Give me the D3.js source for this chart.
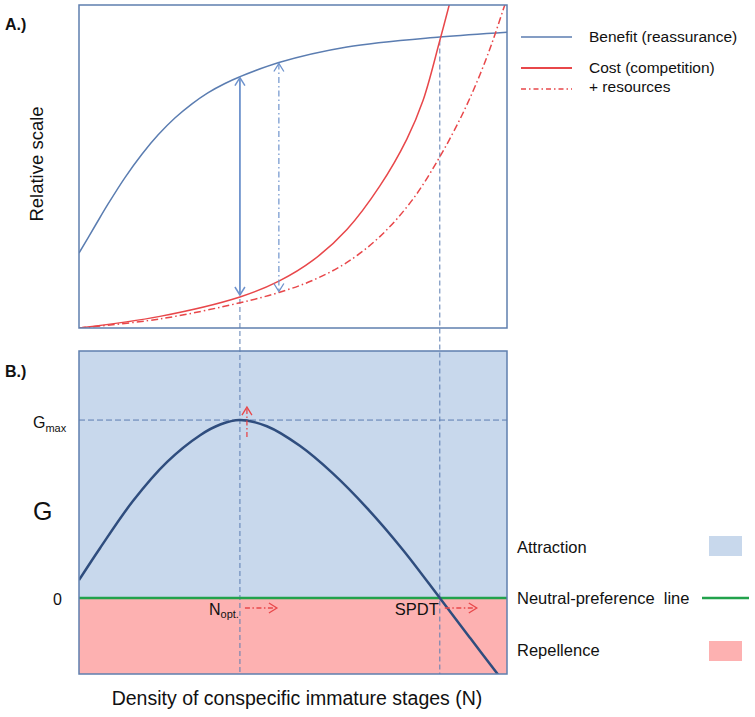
<!DOCTYPE html>
<html><head><meta charset="utf-8">
<script src="https://cdn.jsdelivr.net/npm/d3@7/dist/d3.min.js"></script>
<style>
body{margin:0;background:#fff;}
text{font-family:Arial,"Liberation Sans",sans-serif;fill:#111;}
</style></head>
<body><svg id="c" width="755" height="717"></svg>
<script>
// ---- data ----
const benefitN   = [0,3.7,6.8,10.7,14.7,18.5,22.4,26.4,30.1,34.1,37.6,46.7,62.6,84.3,100];
const benefitV   = [23.2,31.5,38.4,46.5,53.8,59.8,65.0,69.4,72.8,75.7,77.8,82.2,87.0,90.1,91.6];
const costN      = [0,18.9,37.6,46.7,54.7,62.6,70.3,76.6,80.4,84.3,86.7];
const costV      = [0,3.6,9.6,14.5,21.0,30.5,44.0,58.5,70.5,89.0,101];
const resN       = [0,18.9,37.6,46.7,54.7,62.6,70.3,77.8,84.3,89.7,93.7,96.7,99.1,100];
const resV       = [0,2.8,7.8,11.0,14.8,20.3,28.3,39.5,53.0,66.5,78.5,89.0,98.5,102];
const gN         = [0,4.9,12.6,20.6,28.3,33,37.6,43.9,51.6,59.3,67.3,75.7,84.3,91.4,97.9];
const gV         = [10.1,28.0,54.5,76.5,91.5,97.5,100,96.5,85.5,70.0,50.5,27.0,0,-22.5,-43];
const nOpt = 37.6, spdt = 84.3, gMax = 100;
const legendA = ["Benefit (reassurance)", "Cost (competition)", "+ resources"];
const legendB = ["Attraction", "Neutral-preference  line", "Repellence"];

// ---- setup ----
const svg = d3.select("#c");
const x  = d3.scaleLinear().domain([0,100]).range([79,507]);
const yA = d3.scaleLinear().domain([0,100]).range([328,5]);
const yB = d3.scaleLinear().domain([-42.7,138.8]).range([674,351]);
const boxC = "#5f7fae", benC="#5b7db1", arrC="#6e93cd", red="#e8474a", gC="#2f4d7e";
const blueFill="#c8d8ec", pinkFill="#fdb1b1", green="#22a24c";

function zip(a,b){return a.map((v,i)=>[v,b[i]]);}
const crv = d3.curveCatmullRom.alpha(0.5);
const lineA = d3.line().x(d=>x(d[0])).y(d=>yA(d[1])).curve(crv);
const lineB = d3.line().x(d=>x(d[0])).y(d=>yB(d[1])).curve(crv);

svg.append("clipPath").attr("id","clipA").append("rect")
  .attr("x",x(0)).attr("y",yA(100)).attr("width",x(100)-x(0)).attr("height",yA(0)-yA(100));
svg.append("clipPath").attr("id","clipB").append("rect")
  .attr("x",x(0)).attr("y",yB(138.8)).attr("width",x(100)-x(0)).attr("height",yB(-42.7)-yB(138.8));

// ---- Panel B background ----
svg.append("rect").attr("x",x(0)).attr("y",yB(138.8)).attr("width",x(100)-x(0))
  .attr("height",yB(0)-yB(138.8)).attr("fill",blueFill);
svg.append("rect").attr("x",x(0)).attr("y",yB(0)).attr("width",x(100)-x(0))
  .attr("height",yB(-42.7)-yB(0)).attr("fill",pinkFill);

// ---- reference lines ----
const dash = "5,3";
svg.append("line").attr("x1",x(nOpt)).attr("x2",x(nOpt))
  .attr("y1",yA(costV[2])+2).attr("y2",yB(-42.7))
  .attr("stroke",benC).attr("stroke-width",1).attr("stroke-dasharray",dash);
svg.append("line").attr("x1",x(spdt)).attr("x2",x(spdt))
  .attr("y1",yA(89)).attr("y2",yB(-42.7))
  .attr("stroke",benC).attr("stroke-width",1).attr("stroke-dasharray",dash);
svg.append("line").attr("x1",x(0)).attr("x2",x(100))
  .attr("y1",yB(gMax)).attr("y2",yB(gMax))
  .attr("stroke",benC).attr("stroke-width",1).attr("stroke-dasharray","6,3");

// zero line
svg.append("line").attr("x1",x(0)).attr("x2",x(100)).attr("y1",yB(0)).attr("y2",yB(0))
  .attr("stroke",green).attr("stroke-width",2.5);

// G curve
svg.append("path").attr("d",lineB(zip(gN,gV))).attr("fill","none")
  .attr("stroke",gC).attr("stroke-width",2.5).attr("clip-path","url(#clipB)");

// panel B box
svg.append("rect").attr("x",x(0)).attr("y",yB(138.8)).attr("width",x(100)-x(0))
  .attr("height",yB(-42.7)-yB(138.8)).attr("fill","none").attr("stroke",boxC).attr("stroke-width",1.5);

// ---- Panel A ----
const gA = svg.append("g").attr("clip-path","url(#clipA)");
gA.append("path").attr("d",lineA(zip(benefitN,benefitV))).attr("fill","none")
  .attr("stroke",benC).attr("stroke-width",1.5);
gA.append("path").attr("d",lineA(zip(costN,costV))).attr("fill","none")
  .attr("stroke",red).attr("stroke-width",1.5);
gA.append("path").attr("d",lineA(zip(resN,resV))).attr("fill","none")
  .attr("stroke",red).attr("stroke-width",1.5).attr("stroke-dasharray","7,3,1.5,3");
svg.append("rect").attr("x",x(0)).attr("y",yA(100)).attr("width",x(100)-x(0))
  .attr("height",yA(0)-yA(100)).attr("fill","none").attr("stroke",boxC).attr("stroke-width",1.5);

// arrows helper
function chevron(px,py,dir,color,w){ // dir: 'up','down','right'
  let d;
  if(dir==="up") d=`M${px-5},${py+8}L${px},${py}L${px+5},${py+8}`;
  else if(dir==="down") d=`M${px-5},${py-8}L${px},${py}L${px+5},${py-8}`;
  else d=`M${px-8},${py-5}L${px},${py}L${px-8},${py+5}`;
  svg.append("path").attr("d",d).attr("fill","none").attr("stroke",color).attr("stroke-width",w||1.5);
}
// solid double arrow at Nopt
{
  const px=x(nOpt), y1=yA(benefitV[10])+1, y2=yA(costV[2])-2;
  svg.append("line").attr("x1",px).attr("x2",px).attr("y1",y1).attr("y2",y2)
    .attr("stroke",arrC).attr("stroke-width",1.8);
  chevron(px,y1,"up",arrC,1.5); chevron(px,y2,"down",arrC,1.5);
}
// dash-dot double arrow
{
  const px=x(46.7), y1=yA(benefitV[11])+1, y2=yA(resV[3])-1;
  svg.append("line").attr("x1",px).attr("x2",px).attr("y1",y1).attr("y2",y2)
    .attr("stroke",arrC).attr("stroke-width",1.2).attr("stroke-dasharray","6,3,1.5,3");
  chevron(px,y1,"up",arrC,1.3); chevron(px,y2,"down",arrC,1.3);
}

// red arrows in panel B
{
  const px=x(nOpt)+7;
  svg.append("line").attr("x1",px).attr("x2",px).attr("y1",yB(gMax)+17).attr("y2",yB(gMax)-12)
    .attr("stroke",red).attr("stroke-width",1.3).attr("stroke-dasharray","5,2.5,1.5,2.5");
  chevron(px,yB(gMax)-13,"up",red,1.3);
  [nOpt,spdt].forEach(n=>{
    const x0=x(n)+5, yy=yB(0)+10;
    svg.append("line").attr("x1",x0).attr("x2",x0+31).attr("y1",yy).attr("y2",yy)
      .attr("stroke",red).attr("stroke-width",1.3).attr("stroke-dasharray","5,2.5,1.5,2.5");
    chevron(x0+32,yy,"right",red,1.3);
  });
}

// ---- texts ----
svg.append("text").attr("x",5).attr("y",30).attr("font-size",16).attr("font-weight","bold").text("A.)");
svg.append("text").attr("x",5).attr("y",377).attr("font-size",16).attr("font-weight","bold").text("B.)");
svg.append("text").attr("transform","translate(43,164) rotate(-90)").attr("text-anchor","middle")
  .attr("font-size",18.5).text("Relative scale");
svg.append("text").attr("x",297).attr("y",705).attr("text-anchor","middle").attr("font-size",19.5)
  .text("Density of conspecific immature stages (N)");

// axis labels in B
const gm = svg.append("text").attr("x",33).attr("y",yB(gMax)+8).attr("font-size",16);
gm.append("tspan").text("G");
gm.append("tspan").attr("font-size",11).attr("dy",4).text("max");
svg.append("text").attr("x",33).attr("y",520).attr("font-size",25).text("G");
svg.append("text").attr("x",53).attr("y",yB(0)+7).attr("font-size",16).text("0");

const no = svg.append("text").attr("x",x(nOpt)-1).attr("y",yB(0)+17).attr("text-anchor","end").attr("font-size",16);
no.append("tspan").text("N");
no.append("tspan").attr("font-size",11).attr("dy",3).text("opt.");
svg.append("text").attr("x",x(spdt)-1).attr("y",yB(0)+17).attr("text-anchor","end").attr("font-size",16.5).text("SPDT");

// legend A
const lgA=[{y:37,c:benC,d:null},{y:68,c:red,d:null},{y:89,c:red,d:"5,3,1.5,3"}];
lgA.forEach(l=>{
  svg.append("line").attr("x1",521).attr("x2",572).attr("y1",l.y).attr("y2",l.y)
    .attr("stroke",l.c).attr("stroke-width",l.c===red&&!l.d?2:1.3).attr("stroke-dasharray",l.d);
});
svg.append("text").attr("x",589).attr("y",42).attr("font-size",15.5).text(legendA[0]);
svg.append("text").attr("x",589).attr("y",73).attr("font-size",15.5).text(legendA[1]);
svg.append("text").attr("x",589).attr("y",92).attr("font-size",15.5).text(legendA[2]);

// legend B
svg.append("text").attr("x",517).attr("y",553).attr("font-size",16.5).text(legendB[0]).style("white-space","pre");
svg.append("text").attr("x",517).attr("y",604).attr("font-size",16.5).text(legendB[1]).style("white-space","pre");
svg.append("text").attr("x",517).attr("y",656).attr("font-size",16.5).text(legendB[2]);
svg.append("rect").attr("x",709).attr("y",536).attr("width",33).attr("height",20).attr("fill",blueFill);
svg.append("line").attr("x1",702).attr("x2",749).attr("y1",598).attr("y2",598).attr("stroke",green).attr("stroke-width",2.5);
svg.append("rect").attr("x",709).attr("y",641).attr("width",33).attr("height",20).attr("fill",pinkFill);
</script></body></html>
